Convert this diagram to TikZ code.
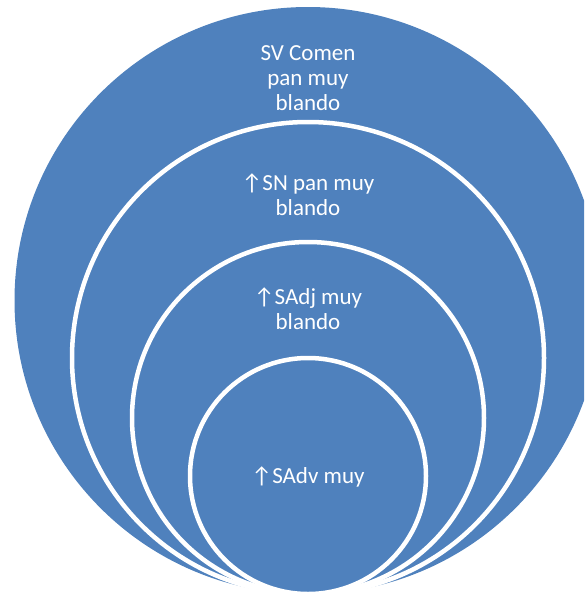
\documentclass[tikz,border=0pt]{standalone}
\usepackage{fontspec}
\setmainfont{Carlito}
\definecolor{ringblue}{RGB}{79,129,189}

\begin{document}
\begin{tikzpicture}[x=1pt, y=-1pt,
    ring/.style={circle, fill=ringblue, draw=white, line width = 4.5pt, inner sep=0pt},
    ringtext/.style={text=white, align=center, font=\fontsize{23}{25}\selectfont}]

    \useasboundingbox (0,0) rectangle (584,592);
    \clip (0,0) rectangle (584,592);

    % nested circles, all touching at the bottom
    \node[ring, draw=none, minimum size=587pt] (sv) at (308,300.5) {};
    \node[ring, minimum size=472pt] (sn) at (308,358) {};
    \node[ring, minimum size=352pt] (sadj) at (308,418) {};
    \node[ring, minimum size=236pt] (sadv) at (308,476) {};

    \node[ringtext] (svtext) at (308,78) {SV Comen\\pan muy\\blando};
    \node[ringtext] (sntext) at (308,195) {↑SN pan muy\\blando};
    \node[ringtext] (sadjtext) at (308,309) {↑SAdj muy\\blando};
    \node[ringtext] (sadvtext) at (308,477) {↑SAdv muy};

\end{tikzpicture}
\end{document}
